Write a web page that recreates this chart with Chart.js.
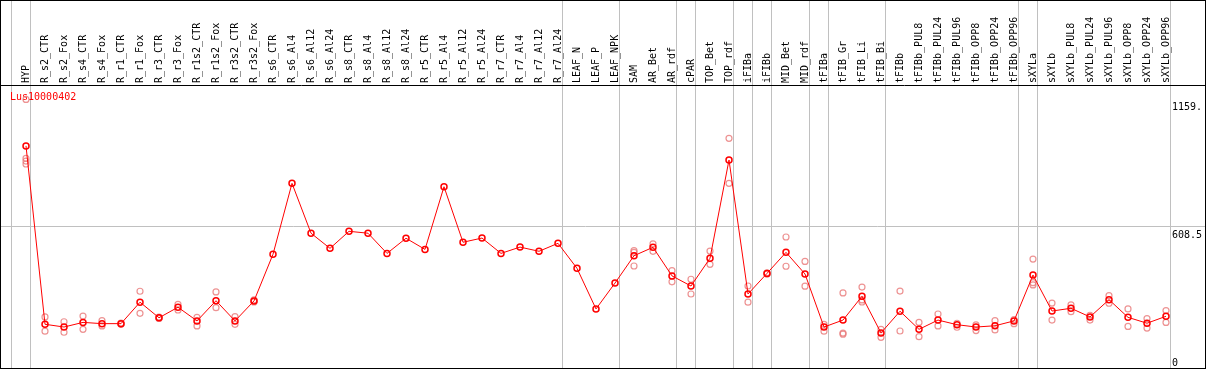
<!DOCTYPE html>
<html><head><meta charset="utf-8">
<script src="https://cdn.jsdelivr.net/npm/chart.js@4"></script>
<style>html,body{margin:0;padding:0;background:#fff;overflow:hidden}canvas{display:block}</style>
</head><body>
<canvas id="c" width="1209" height="370"></canvas>
<script>
const chartTitle = 'Lus10000402';
const categories = ['HYP','R_s2_CTR','R_s2_Fox','R_s4_CTR','R_s4_Fox','R_r1_CTR','R_r1_Fox','R_r3_CTR','R_r3_Fox','R_r1s2_CTR','R_r1s2_Fox','R_r3s2_CTR','R_r3s2_Fox','R_s6_CTR','R_s6_Al4','R_s6_Al12','R_s6_Al24','R_s8_CTR','R_s8_Al4','R_s8_Al12','R_s8_Al24','R_r5_CTR','R_r5_Al4','R_r5_Al12','R_r5_Al24','R_r7_CTR','R_r7_Al4','R_r7_Al12','R_r7_Al24','LEAF_N','LEAF_P','LEAF_NPK','SAM','AR_Bet','AR_rdf','cPAR','TOP_Bet','TOP_rdf','iFIBa','iFIBb','MID_Bet','MID_rdf','tFIBa','tFIB_Gr','tFIB_Li','tFIB_Bi','tFIBb','tFIBb_PUL8','tFIBb_PUL24','tFIBb_PUL96','tFIBb_OPP8','tFIBb_OPP24','tFIBb_OPP96','sXYLa','sXYLb','sXYLb_PUL8','sXYLb_PUL24','sXYLb_PUL96','sXYLb_OPP8','sXYLb_OPP24','sXYLb_OPP96'];
const meanValues = [994,146,133,155,149,149,251,177,227,162,258,162,257,479,816,579,507,588,579,483,555,502,800,536,556,483,513,493,531,412,219,342,472,512,376,328,460,927,290,388,488,385,133,166,279,105,208,122,166,144,133,139,162,380,209,222,181,263,179,151,184];
const replicateValues = [
  [1215,935,922,908],[181,113],[158,108],[185,122],[163,138],[146,152],[303,198],[180,174],[241,214],[179,138],[300,225],[182,146],[262,252],
  [],[],[],[],[],[],[],[],[],[],[],[],[],[],[],[],[],[],[],
  [496,488,423],[528,493],[401,348],[360,290],[494,431],[1030,816],[328,251],[385,391],[561,422],[445,327],[146,113],[295,104,99],[323,252,262],[122,84],
  [304,114],[155,87],[195,138],[151,132],[143,116],[163,119],[168,149],
  [456,344,333],[247,166],[238,206],[189,166],[282,246],[219,136],[173,128],[211,155]
];
const groupLastIndex = [-1,0,28,31,34,35,37,38,39,41,42,45,52,53,60];
const yTickValues = [0, 608.5, 1217];
const yTickLabels = ['0', '608.5', '1159.'];

const FONT = '"DejaVu Sans Mono", monospace';
const GRID = '#c0c0c0';
const X_MIN = -25/19, X_MAX = 60 + 4/19;
const Y_MIN = -66.6, Y_MAX = 1283.6;
const SEP_OFFSET = 4/19;
const AXIS_W = 36;

const framePlugin = {
  id: 'frame',
  beforeDatasetsDraw(chart) {
    const {ctx, chartArea: a, scales} = chart;
    ctx.save();
    ctx.strokeStyle = GRID; ctx.lineWidth = 1;
    scales.xg.ticks.forEach(t => {
      const px = Math.round(scales.xg.getPixelForValue(t.value)) + 0.5;
      ctx.beginPath(); ctx.moveTo(px, 0); ctx.lineTo(px, a.bottom); ctx.stroke();
    });
    ctx.fillStyle = '#ff0000'; ctx.font = '10px ' + FONT; ctx.textBaseline = 'alphabetic'; ctx.textAlign = 'left';
    ctx.fillText(chartTitle, a.left + 9, a.top + 15);
    ctx.restore();
  },
  afterDraw(chart) {
    const {ctx, chartArea: a} = chart;
    const right = chart.width - 3;
    ctx.save();
    ctx.strokeStyle = '#000'; ctx.lineWidth = 1;
    ctx.strokeRect(0.5, 0.5, right - 1, a.bottom - 1);
    ctx.beginPath(); ctx.moveTo(0, a.top + 0.5); ctx.lineTo(right, a.top + 0.5); ctx.stroke();
    ctx.restore();
  }
};

new Chart(document.getElementById('c'), {
  type: 'line',
  data: {
    datasets: [
      {
        label: 'mean',
        data: meanValues.map((v, i) => ({x: i, y: v})),
        borderColor: '#ff0000', borderWidth: 1, tension: 0,
        pointRadius: 3, pointBorderWidth: 1.5, pointBorderColor: '#ff0000', pointBackgroundColor: 'rgba(0,0,0,0)',
        order: 1, xAxisID: 'x', yAxisID: 'y'
      },
      {
        label: 'replicates',
        data: replicateValues.flatMap((arr, i) => arr.map(v => ({x: i, y: v}))),
        showLine: false,
        pointRadius: 3, pointBorderWidth: 1.2, pointBorderColor: 'rgba(232,120,120,0.8)', pointBackgroundColor: 'rgba(0,0,0,0)',
        order: 2, xAxisID: 'x', yAxisID: 'y'
      }
    ]
  },
  options: {
    responsive: false, animation: false, events: [],
    layout: {autoPadding: false, padding: {left: 1, right: 3, top: 0, bottom: 1}},
    plugins: {legend: {display: false}, tooltip: {enabled: false}, title: {display: false}},
    scales: {
      x: {
        type: 'linear', position: 'top', min: X_MIN, max: X_MAX,
        afterBuildTicks: s => { s.ticks = categories.map((_, i) => ({value: i})); },
        afterFit: s => { s.height = 85; s.paddingLeft = 0; s.paddingRight = 0; },
        ticks: {autoSkip: false, maxRotation: 90, minRotation: 90, padding: 2, labelOffset: 12, color: '#000',
          font: {family: FONT, size: 10}, callback: (v) => categories[v] ?? ''},
        grid: {display: false, drawTicks: false},
        border: {display: false}
      },
      xg: {
        type: 'linear', position: 'bottom', min: X_MIN, max: X_MAX,
        afterBuildTicks: s => { s.ticks = groupLastIndex.map(i => ({value: i + SEP_OFFSET})); },
        afterFit: s => { s.height = 0; s.paddingLeft = 0; s.paddingRight = 0; },
        ticks: {display: false},
        grid: {display: false},
        border: {display: false}
      },
      y: {
        type: 'linear', position: 'right', min: Y_MIN, max: Y_MAX,
        afterBuildTicks: s => { s.ticks = yTickValues.map(v => ({value: v})); },
        afterFit: s => { s.width = AXIS_W; s.paddingTop = 0; s.paddingBottom = 0; },
        ticks: {padding: 2 - AXIS_W, labelOffset: 8, color: '#000',
          font: {family: FONT, size: 10}, callback: (v, i) => yTickLabels[i]},
        grid: {color: c => (c.index === 1 ? GRID : 'rgba(0,0,0,0)'), drawTicks: true, tickLength: AXIS_W,
          tickColor: c => (c.index === 1 ? GRID : 'rgba(0,0,0,0)')},
        border: {display: false}
      }
    }
  },
  plugins: [framePlugin]
});
</script>
</body></html>
